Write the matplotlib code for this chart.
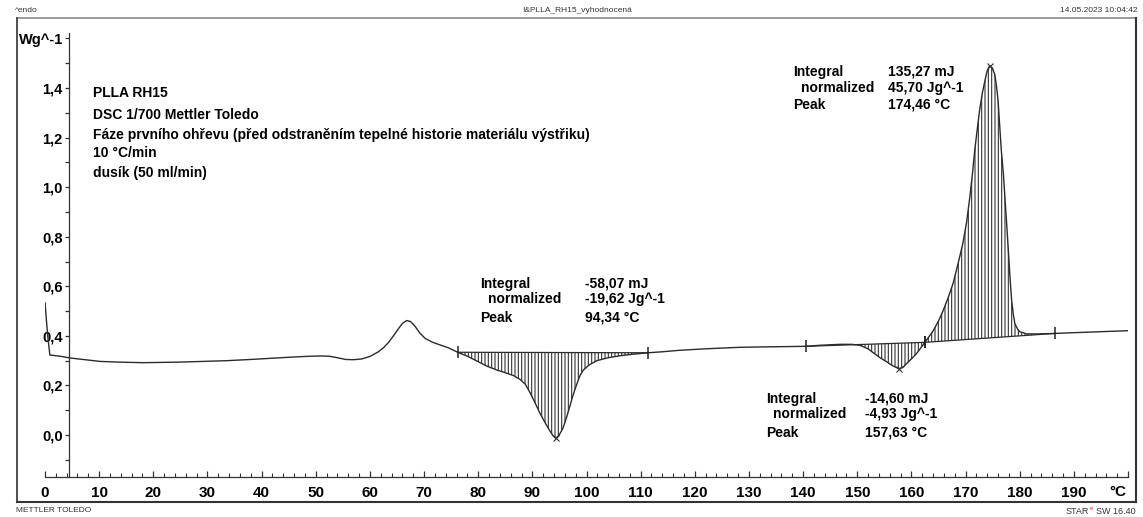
import numpy as np
import matplotlib
matplotlib.use('Agg')
import matplotlib.pyplot as plt
from matplotlib.lines import Line2D

plt.rcParams['font.family'] = ['Liberation Sans', 'DejaVu Sans']
plt.rcParams['hatch.linewidth'] = 0.8

# DSC krivka - teplota (°C) a tepelny tok (W/g)
temp = [0.0, 0.5, 0.9, 2.8, 4.6, 10.2, 14.0, 18.1, 24.3, 29.0, 33.5, 38.0, 42.8, 46.0,
        48.9, 51.0, 52.5, 54.0, 55.5, 57.0, 58.5, 60.0, 61.5, 62.5, 63.5, 64.5, 65.3,
        66.0, 66.8, 67.5, 68.3, 69.2, 70.2, 71.5, 72.9, 74.5, 76.2,
        78.0, 80.0, 81.6, 83.5, 85.2, 86.5, 87.7, 88.7, 89.6, 90.5, 91.4, 92.3, 93.2,
        93.9, 94.34, 94.9, 95.7, 96.3, 96.9, 97.5, 98.2, 98.8, 99.4, 100.5, 101.9,
        104.0, 106.2, 108.5, 111.4, 114.0, 117.2, 122.0, 128.3, 134.0, 140.5,
        143.0, 146.8, 149.0, 150.5, 152.0, 152.9, 154.2, 155.4, 156.5, 157.63, 158.4,
        159.1, 160.0, 161.0, 162.5,
        164.0, 165.0, 165.9, 166.8, 167.7, 168.6, 169.5, 170.2, 170.8, 171.3, 171.7,
        172.2, 172.6, 173.1, 173.6, 174.0, 174.46, 174.9, 175.4, 175.7, 176.0, 176.3,
        176.6, 177.0, 177.3, 177.6, 177.9, 178.2, 178.5, 178.8, 179.1, 179.6, 180.0,
        181.3, 183.5, 186.5, 190.0, 195.0, 200.0]
heatflow = [0.534, 0.40, 0.323, 0.318, 0.311, 0.297, 0.294, 0.292, 0.294, 0.297, 0.300,
            0.305, 0.311, 0.315, 0.318, 0.319, 0.318, 0.312, 0.305, 0.304, 0.307, 0.317,
            0.335, 0.352, 0.375, 0.405, 0.430, 0.450, 0.462, 0.458, 0.440, 0.412, 0.390,
            0.375, 0.364, 0.352, 0.334,
            0.318, 0.296, 0.278, 0.262, 0.250, 0.240, 0.225, 0.205, 0.170, 0.130, 0.088,
            0.052, 0.018, -0.005, -0.013, -0.002, 0.030, 0.070, 0.114, 0.160, 0.205,
            0.240, 0.262, 0.283, 0.300, 0.312, 0.320, 0.326, 0.332, 0.336, 0.342, 0.348,
            0.354, 0.356, 0.358,
            0.362, 0.366, 0.366, 0.362, 0.348, 0.333, 0.312, 0.296, 0.280, 0.268, 0.272,
            0.288, 0.307, 0.330, 0.374,
            0.420, 0.460, 0.504, 0.555, 0.612, 0.690, 0.773, 0.860, 0.961, 1.060, 1.150,
            1.240, 1.311, 1.380, 1.432, 1.470, 1.490, 1.482, 1.455, 1.410, 1.351, 1.250,
            1.150, 1.050, 0.948, 0.850, 0.746, 0.640, 0.545, 0.490, 0.450, 0.428, 0.417,
            0.408, 0.408, 0.410, 0.413, 0.417, 0.421]

# meze integrace (°C) a vrcholy
limits = [(76.2, 111.4), (140.5, 162.5), (162.5, 186.5)]
peaks_T = [94.34, 157.63, 174.46]
results = [('-58,07 mJ', '-19,62 Jg^-1', '94,34 °C'),
           ('-14,60 mJ', '-4,93 Jg^-1', '157,63 °C'),
           ('135,27 mJ', '45,70 Jg^-1', '174,46 °C')]
info = ['PLLA RH15', 'DSC 1/700 Mettler Toledo',
        'Fáze prvního ohřevu (před odstraněním tepelné historie materiálu výstřiku)',
        '10 °C/min', 'dusík (50 ml/min)']

x_ticks = list(range(0, 201, 10))
y_ticks = [0.0, 0.2, 0.4, 0.6, 0.8, 1.0, 1.2, 1.4, 1.6]

T = np.array(temp)
H = np.array(heatflow)

fig = plt.figure(figsize=(11.43, 5.17), dpi=100)
W, Hpx = 1143, 517
ax = fig.add_axes([45 / W, (Hpx - 476.7) / Hpx, (1128 - 45) / W, (476.7 - 33) / Hpx])
ax.set_xlim(0, 200)
ax.set_ylim(-0.168, 1.622)

curve_col = '#2b2b2b'
ax.plot(T, H, color=curve_col, lw=1.0, zorder=3)

# plochy integrace - srafovani
for t0, t1 in limits:
    m = (T >= t0 - 1e-6) & (T <= t1 + 1e-6)
    ax.fill(T[m], H[m], facecolor='none', edgecolor='#333333', lw=0,
            hatch='|||||', zorder=2)
    ax.plot(T[m][[0, -1]], H[m][[0, -1]], color=curve_col, lw=0.9, zorder=3)
    ax.plot(T[m][[0, -1]], H[m][[0, -1]], ls='none', marker='|', ms=8,
            mew=1.1, color='#222222', zorder=4)

for pt in peaks_T:
    i = int(np.argmin(np.abs(T - pt)))
    ax.plot(T[i], H[i], ls='none', marker='x', ms=5, mew=0.8, color='#333333', zorder=4)

# osy
for s in ['top', 'right']:
    ax.spines[s].set_visible(False)
ax.spines['left'].set_position(('data', 4.43))
ax.spines['left'].set_color('#333333')
ax.spines['bottom'].set_color('#333333')
ax.spines['left'].set_linewidth(0.9)
ax.spines['bottom'].set_linewidth(0.9)

ax.set_yticks(y_ticks)
ax.set_yticklabels([('%.1f' % v).replace('.', ',') for v in y_ticks[:-1]] + ['Wg^-1'])
ax.set_yticks(np.arange(-0.1, 1.55, 0.2), minor=True)
ax.tick_params(axis='y', which='both', direction='out', length=3, width=0.9,
               color='#333333', labelsize=10.5, pad=1.5)

ax.set_xticks(x_ticks)
ax.set_xticklabels([str(v) for v in x_ticks[:-1]] + [''])
ax.set_xticks(np.arange(0, 201, 2), minor=True)
ax.tick_params(axis='x', which='major', direction='in', length=4, width=0.9,
               color='#333333', labelsize=11, pad=7)
ax.tick_params(axis='x', which='minor', direction='in', length=3, width=0.8,
               color='#333333')
for lab in ax.get_xticklabels() + ax.get_yticklabels():
    lab.set_fontweight('bold')
fig.text(1118 / W, 1 - 492 / Hpx, '°C', ha='center', va='center', fontsize=11,
         fontweight='bold')

# popisky
fs = 10
for k, s in enumerate(info):
    ax.text(8.86, [1.378, 1.293, 1.212, 1.136, 1.059][k], s, fontsize=fs,
            fontweight='bold', va='center')

ann_pos = [(80.3, 81.8, 99.7, [0.611, 0.547, 0.474]),
           (133.1, 134.4, 151.4, [0.147, 0.083, 0.010]),
           (138.1, 139.6, 155.6, [1.466, 1.402, 1.333])]
for (xl, xn, xv, ys), res in zip(ann_pos, results):
    ax.text(xl, ys[0], 'Integral', fontsize=fs, fontweight='bold', va='center')
    ax.text(xn, ys[1], 'normalized', fontsize=fs, fontweight='bold', va='center')
    ax.text(xl, ys[2], 'Peak', fontsize=fs, fontweight='bold', va='center')
    for y, s in zip(ys, res):
        ax.text(xv, y, s, fontsize=fs, fontweight='bold', va='center')

# ramecek a hlavicka
fig.add_artist(Line2D([16.7 / W, 1136 / W], [1 - 18 / Hpx] * 2, color='#8a8a8a', lw=1.2))
fig.add_artist(Line2D([16.7 / W] * 2, [1 - 18 / Hpx, 1 - 501.7 / Hpx], color='#333333', lw=1.2))
fig.add_artist(Line2D([16.7 / W, 1136 / W], [1 - 501.7 / Hpx] * 2, color='#333333', lw=1.5))
fig.add_artist(Line2D([1136 / W] * 2, [1 - 18 / Hpx, 1 - 501.7 / Hpx], color='#333333', lw=1.5))

fig.text(15 / W, 1 - 11 / Hpx, '^endo', fontsize=6, color='#333333', va='center')
fig.text(577 / W, 1 - 11 / Hpx, '!&PLLA_RH15_vyhodnocená', fontsize=6, color='#333333',
         ha='center', va='center')
fig.text(1137 / W, 1 - 11 / Hpx, '14.05.2023 10:04:42', fontsize=6, color='#333333',
         ha='right', va='center')
fig.text(16 / W, 1 - 511 / Hpx, 'METTLER TOLEDO', fontsize=6, color='#333333', va='center')
fig.text(1136 / W, 1 - 511 / Hpx, 'SW 16.40', fontsize=6.5, color='#333333',
         ha='right', va='center')
fig.text(1089 / W, 1 - 511 / Hpx, 'STAR', fontsize=6.5, color='#333333', ha='right',
         va='center')
fig.text(1089.5 / W, 1 - 508.5 / Hpx, 'e', fontsize=4, color='#d02020', ha='left',
         va='center')

fig.savefig('out.png', dpi=100)
